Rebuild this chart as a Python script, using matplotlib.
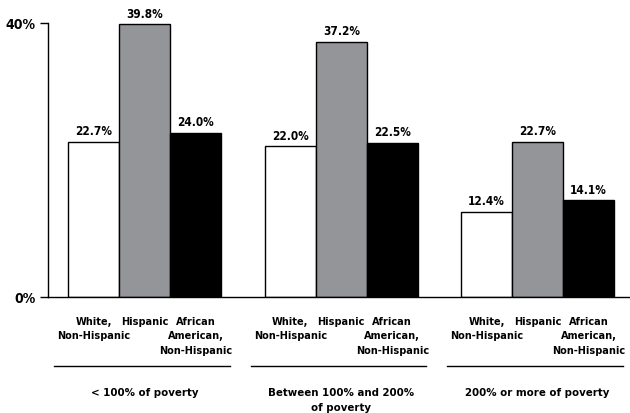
import matplotlib
matplotlib.use("Agg")
import matplotlib.pyplot as plt
import numpy as np

groups = ["< 100% of poverty", "Between 100% and 200%\nof poverty", "200% or more of poverty"]
categories = ["White,\nNon-Hispanic", "Hispanic", "African\nAmerican,\nNon-Hispanic"]
white_vals = [22.7, 22.0, 12.4]
hispanic_vals = [39.8, 37.2, 22.7]
black_vals = [24.0, 22.5, 14.1]
yticks = [0, 40]
ytick_labels = ["0%", "40%"]

plt.rcParams["font.family"] = ["DejaVu Sans"]
plt.rcParams["font.stretch"] = "condensed"
plt.rcParams["font.weight"] = "bold"

fig = plt.figure(figsize=(6.3, 4.14), dpi=100)
ax = fig.add_axes([48 / 630, 1 - 298 / 414, 1 - 48 / 630, 274 / 414])


def yfrac(py):
    # pixel row -> axes fraction
    return (298 - py) / 274


group_gap = 3.85
centers = np.arange(len(groups)) * group_gap
series = [white_vals, hispanic_vals, black_vals]
colors = ["white", "#939598", "black"]

for j, (vals, col) in enumerate(zip(series, colors)):
    xs = centers + (j - 1)
    ax.bar(xs, vals, width=1.0, color=col, edgecolor="black", linewidth=1.0, zorder=2)
    for x, v in zip(xs, vals):
        ax.text(x, v + 0.7, f"{v:.1f}%", ha="center", va="bottom",
                fontsize=8.5, fontweight="bold", clip_on=False)

ax.set_xlim(-1.9, 9.51)
ax.set_ylim(0, 40)
ax.set_yticks(yticks)
ax.set_yticklabels(ytick_labels, fontsize=10, fontweight="bold")
ax.tick_params(axis="y", length=6, width=1, direction="out", pad=3)
ax.set_xticks([])
for s in ["top", "right"]:
    ax.spines[s].set_visible(False)
ax.spines["left"].set_linewidth(1)
ax.spines["bottom"].set_linewidth(1)

tr = ax.get_xaxis_transform()
for c, g in zip(centers, groups):
    for j, cat in enumerate(categories):
        # one text per line so the lines sit like the original
        for k, line in enumerate(cat.split("\n")):
            ax.text(c + (j - 1), yfrac(317 + k * 14.5), line, transform=tr,
                    ha="center", va="top", fontsize=7.8, fontweight="bold",
                    clip_on=False)
    ax.plot([c - 1.78, c + 1.67], [yfrac(367), yfrac(367)], transform=tr,
            color="black", linewidth=1, clip_on=False)
    for k, line in enumerate(g.split("\n")):
        ax.text(c, yfrac(388 + k * 15), line, transform=tr, ha="center",
                va="top", fontsize=8.2, fontweight="bold", clip_on=False)

fig.savefig("out.png", dpi=100)
